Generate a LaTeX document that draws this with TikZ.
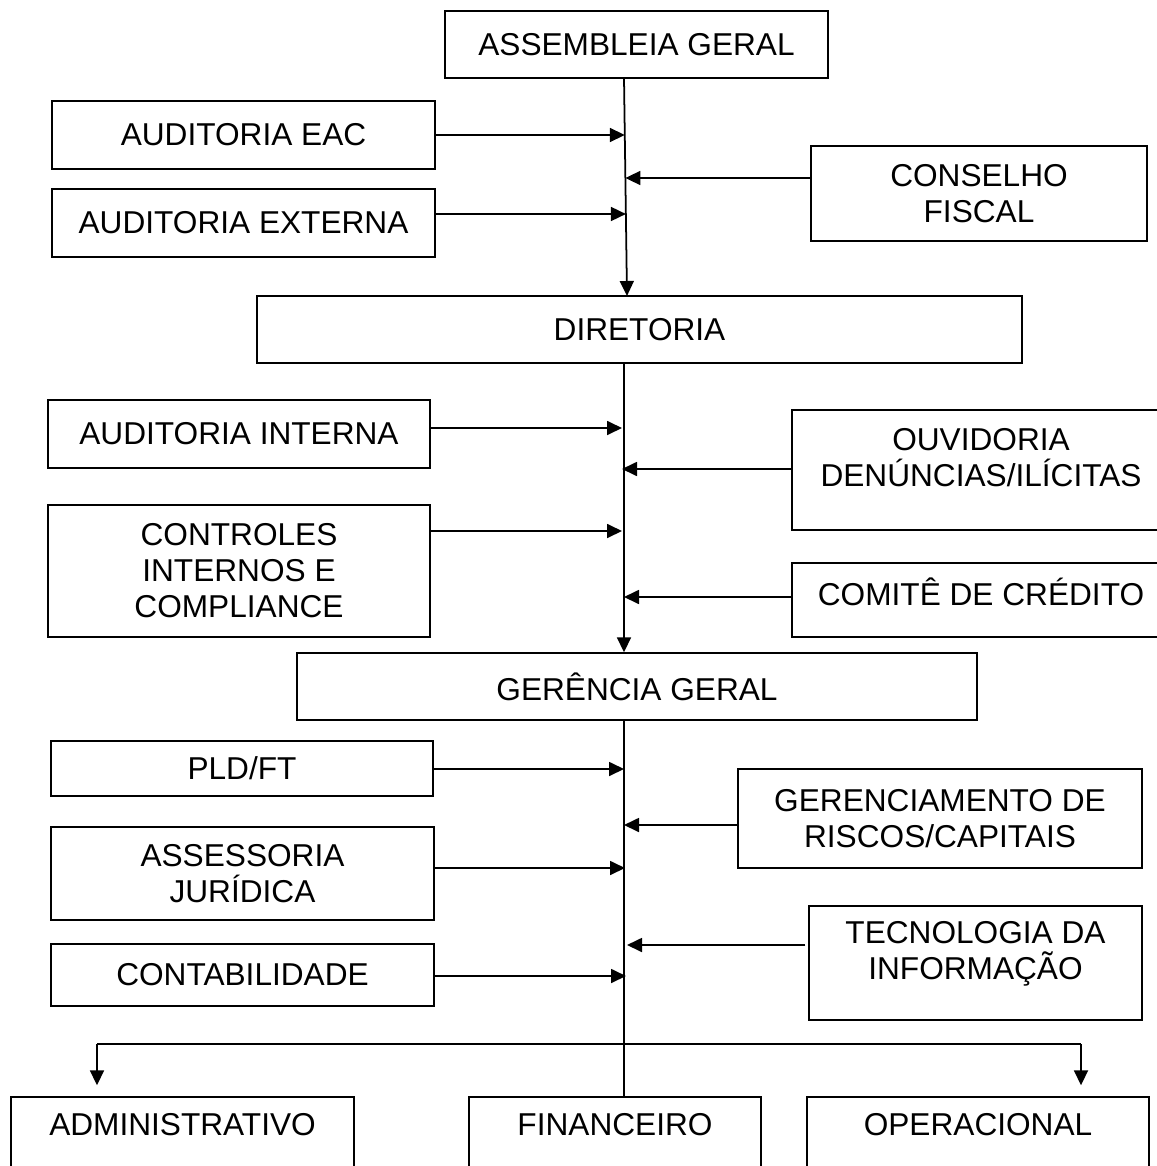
\documentclass[tikz,border=0pt]{standalone}
\usepackage{fontspec}
\setmainfont{Liberation Sans}
\usetikzlibrary{arrows.meta}

\newcommand{\pxu}{0.02cm}

\begin{document}
\begin{tikzpicture}[x=0.02cm, y=-0.02cm,
  box/.style={draw, line width=0.8pt, inner sep=0pt, align=center,
    font=\fontsize{18}{20.5}\selectfont},
  boxtext/.style={align=center, font=\fontsize{18}{20.5}\selectfont},
  arr/.style={line width=1pt, -{Triangle[length=0.3cm,width=0.28cm]}},
  trunk/.style={line width=1pt}]

  % ====== 1) moldura ======
  \useasboundingbox (0,0) rectangle (1156,1166);

  % ====== 2) topo ======
  \node[box, minimum width=383*\pxu, minimum height=67*\pxu] (ag) at (636.5,44.5) {ASSEMBLEIA GERAL};
  \node[box, minimum width=383*\pxu, minimum height=68*\pxu] (eac) at (243.5,135) {AUDITORIA EAC};
  \node[box, minimum width=383*\pxu, minimum height=68*\pxu] (ext) at (243.5,223) {AUDITORIA EXTERNA};
  \node[box, minimum width=336*\pxu, minimum height=95*\pxu] (cons) at (979,193.5) {CONSELHO\\FISCAL};
  \node[box, minimum width=765*\pxu, minimum height=67*\pxu] (dir) at (639.5,329.5) {DIRETORIA};

  % ====== 3) meio ======
  \node[box, minimum width=382*\pxu, minimum height=68*\pxu] (ai) at (239,434) {AUDITORIA INTERNA};
  \node[box, minimum width=378*\pxu, minimum height=120*\pxu,
    label={[boxtext, name=ouvt, yshift=12*\pxu]center:{OUVIDORIA\\DENÚNCIAS/ILÍCITAS}}] (ouv) at (981,470) {};
  \node[box, minimum width=382*\pxu, minimum height=132*\pxu] (ctrl) at (239,571) {CONTROLES\\INTERNOS E\\COMPLIANCE};
  \node[box, minimum width=378*\pxu, minimum height=74*\pxu,
    label={[boxtext, name=comt, yshift=8*\pxu]center:{COMITÊ DE CRÉDITO}}] (com) at (981,600) {};
  \node[box, minimum width=680*\pxu, minimum height=67*\pxu] (gg) at (637,686.5) {GERÊNCIA GERAL};

  % ====== 4) baixo ======
  \node[box, minimum width=382*\pxu, minimum height=55*\pxu] (pld) at (242,768.5) {PLD/FT};
  \node[box, minimum width=404*\pxu, minimum height=99*\pxu] (gr) at (940,818.5) {GERENCIAMENTO DE\\RISCOS/CAPITAIS};
  \node[box, minimum width=383*\pxu, minimum height=93*\pxu] (ass) at (242.5,873.5) {ASSESSORIA\\JURÍDICA};
  \node[box, minimum width=333*\pxu, minimum height=114*\pxu,
    label={[boxtext, name=tect, yshift=9*\pxu]center:{TECNOLOGIA DA\\INFORMAÇÃO}}] (tec) at (975.5,963) {};
  \node[box, minimum width=383*\pxu, minimum height=62*\pxu] (cont) at (242.5,975) {CONTABILIDADE};

  % ====== 5) departamentos ======
  \node[box, minimum width=343*\pxu, minimum height=113*\pxu,
    label={[boxtext, name=admt, yshift=28.5*\pxu]center:{ADMINISTRATIVO}}] (adm) at (182.5,1153.5) {};
  \node[box, minimum width=292*\pxu, minimum height=113*\pxu,
    label={[boxtext, name=fint, yshift=28.5*\pxu]center:{FINANCEIRO}}] (fin) at (615,1153.5) {};
  \node[box, minimum width=342*\pxu, minimum height=113*\pxu,
    label={[boxtext, name=opet, yshift=28.5*\pxu]center:{OPERACIONAL}}] (ope) at (978,1153.5) {};

  % ====== 6) tronco ======
  \coordinate (t0) at (624,78);
  \coordinate (t1) at (627,296);
  \coordinate (m0) at (624,363);
  \coordinate (b0) at (624,720);
  \coordinate (bl) at (97,1044);
  \coordinate (br) at (1081,1044);

  \draw[arr] (t0) -- (t1);
  \draw[arr] (m0) -- (m0 |- gg.north);
  \draw[trunk] (b0) -- (b0 |- fin.north);

  % ====== 7) setas laterais ======
  \draw[arr] (eac.east) -- (624.8,135);
  \draw[arr] (ext.east |- 0,214) -- (625.9,214);
  \draw[arr] (cons.west |- 0,178) -- (625.4,178);

  \draw[arr] (ai.east |- 0,428) -- (622,428);
  \draw[arr] (ouv.west |- 0,469) -- (622,469);
  \draw[arr] (ctrl.east |- 0,531) -- (622,531);
  \draw[arr] (com.west |- 0,597) -- (624,597);

  \draw[arr] (pld.east |- 0,769) -- (624,769);
  \draw[arr] (gr.west |- 0,825) -- (624,825);
  \draw[arr] (ass.east |- 0,868) -- (625,868);
  \draw[arr] (tec.west |- 0,945) ++(-3,0) -- (627,945);
  \draw[arr] (cont.east |- 0,976) -- (626,976);

  % ====== 8) ramificação ======
  \draw[trunk] (bl) -- (br);
  \draw[arr, shorten >=11*\pxu] (bl) -- (bl |- adm.north);
  \draw[arr, shorten >=11*\pxu] (br) -- (br |- ope.north);

\end{tikzpicture}
\end{document}
